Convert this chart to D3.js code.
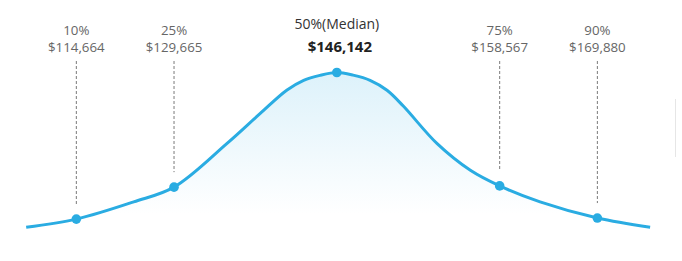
<!DOCTYPE html>
<html>
<head>
<meta charset="utf-8">
<script src="https://cdn.jsdelivr.net/npm/d3@7"></script>
<style>
body { margin: 0; background: #fff; }
text { font-family: "Open Sans", sans-serif; }
</style>
</head>
<body>
<svg id="chart"></svg>
<script>
// percentile markers
var percentiles = [10, 25, 50, 75, 90];
var pctLabels = ["10%", "25%", "50%(Median)", "75%", "90%"];
var salaries = [114664, 129665, 146142, 158567, 169880];

// bell curve samples (x = percentile, y = height, peak = 100)
var curvePct = [2.3, 10, 18.8, 25, 33.1, 38.2, 42.3, 44.9, 47.4, 50, 52.5, 55.1, 57.7, 60.2, 65.4, 70.5, 75, 81.2, 90, 98.1];
var curveVal = [12.8, 17.4, 27.1, 35.4, 59.9, 76.8, 90.0, 95.6, 98.4, 100, 98.5, 95.6, 90.0, 81.1, 59.9, 44.9, 36.1, 27.1, 18.0, 12.8];

var width = 682, height = 261;
var blue = "#2aace2";

var svg = d3.select("#chart").attr("width", width).attr("height", height);

var x = d3.scaleLinear().domain([0, 100]).range([11.2, 662.5]);
var y = d3.scaleLinear().domain([0, 100]).range([250, 72.5]);

var curve = curvePct.map(function(p, i) { return [p, curveVal[i]]; });
function valAt(p) { return curveVal[curvePct.indexOf(p)]; }

var grad = svg.append("defs").append("linearGradient")
	.attr("id", "fillGrad")
	.attr("gradientUnits", "userSpaceOnUse")
	.attr("x1", 0).attr("x2", 0)
	.attr("y1", y(100)).attr("y2", y(20));
grad.append("stop").attr("offset", 0).attr("stop-color", blue).attr("stop-opacity", 0.16);
grad.append("stop").attr("offset", 1).attr("stop-color", blue).attr("stop-opacity", 0);

var area = d3.area()
	.x(function(d) { return x(d[0]); })
	.y0(y(0))
	.y1(function(d) { return y(d[1]); })
	.curve(d3.curveCatmullRom.alpha(0.5));

var line = d3.line()
	.x(function(d) { return x(d[0]); })
	.y(function(d) { return y(d[1]); })
	.curve(d3.curveCatmullRom.alpha(0.5));

svg.append("path").datum(curve).attr("d", area).attr("fill", "url(#fillGrad)");

// dashed guides (not for the median)
svg.selectAll("line.guide")
	.data(percentiles.filter(function(p) { return p != 50; }))
	.enter().append("line")
	.attr("class", "guide")
	.attr("x1", function(d) { return x(d); })
	.attr("x2", function(d) { return x(d); })
	.attr("y1", 61)
	.attr("y2", function(d) { return y(valAt(d)) - 15; })
	.attr("stroke", "#7a7a7a")
	.attr("stroke-width", 1)
	.attr("stroke-dasharray", "3,2");

svg.append("path").datum(curve).attr("d", line)
	.attr("fill", "none").attr("stroke", blue).attr("stroke-width", 3);

svg.selectAll("circle")
	.data(percentiles)
	.enter().append("circle")
	.attr("cx", function(d) { return x(d); })
	.attr("cy", function(d) { return y(valAt(d)); })
	.attr("r", 4.8)
	.attr("fill", blue);

var fmt = d3.format("$,");
var labels = svg.selectAll("g.lab")
	.data(percentiles)
	.enter().append("g")
	.attr("class", "lab")
	.attr("transform", function(d) { return "translate(" + x(d) + ",0)"; });

labels.append("text")
	.attr("text-anchor", "middle")
	.attr("y", function(d) { return d == 50 ? 28.5 : 34.5; })
	.attr("font-size", function(d) { return d == 50 ? 14 : 13.3; })
	.attr("fill", function(d) { return d == 50 ? "#333" : "#666"; })
	.text(function(d, i) { return pctLabels[i]; });

labels.append("text")
	.attr("text-anchor", "middle")
	.attr("x", function(d) { return d == 50 ? 3 : 0; })
	.attr("y", 51.5)
	.attr("font-size", function(d) { return d == 50 ? 15 : 13.3; })
	.attr("font-weight", function(d) { return d == 50 ? "bold" : "normal"; })
	.attr("fill", function(d) { return d == 50 ? "#222" : "#666"; })
	.text(function(d, i) { return fmt(salaries[i]); });

// faint edge line at the right
svg.append("line")
	.attr("x1", 675.5).attr("x2", 675.5).attr("y1", 99).attr("y2", 157)
	.attr("stroke", "#e6e6e6").attr("stroke-width", 1);
</script>
</body>
</html>
